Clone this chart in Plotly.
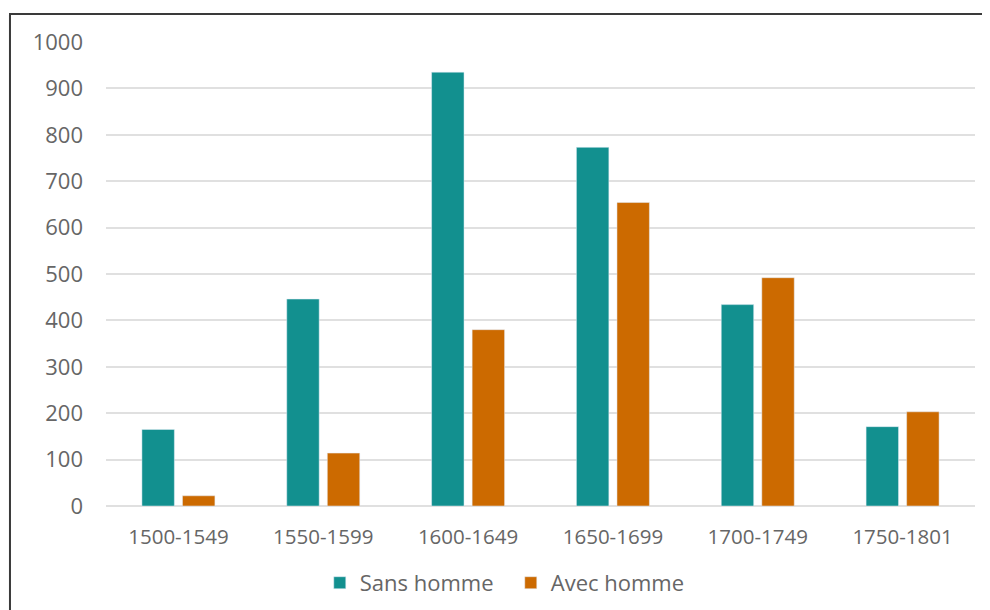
import plotly.graph_objects as go

periods = ['1500-1549', '1550-1599', '1600-1649', '1650-1699', '1700-1749', '1750-1801']
sans_homme = [165, 446, 935, 773, 434, 171]
avec_homme = [22, 114, 380, 654, 492, 203]

teal = '#12908F'
orange = '#CC6A00'
grey_text = '#666666'

fig = go.Figure()
fig.add_trace(go.Bar(x=periods, y=sans_homme, name='Sans homme', marker_color=teal))
fig.add_trace(go.Bar(x=periods, y=avec_homme, name='Avec homme', marker_color=orange))

# page has an 8px body margin, so the figure is 982x602
# plot area on page: x 106..975 px, y 42..506 px
fig.update_layout(
    width=982, height=602,
    margin=dict(l=98, r=15, t=34, b=104, autoexpand=False),
    plot_bgcolor='white', paper_bgcolor='white',
    font=dict(family='Open Sans', size=21, color=grey_text),
    barmode='group', bargap=0.44, bargroupgap=0.2,
    showlegend=True,
    legend=dict(orientation='h', x=0.246, xanchor='left',
                yref='container', y=0.045, yanchor='middle',
                font=dict(size=22, color=grey_text), itemwidth=30,
                entrywidth=146, entrywidthmode='pixels'),
    xaxis=dict(showgrid=False, showline=False, ticks='', ticklabelstandoff=16,
               tickfont=dict(size=20.5), automargin=False),
    yaxis=dict(range=[0, 1000], dtick=100, showgrid=True, gridcolor='#e0e0e0', gridwidth=1.5,
               zeroline=True, zerolinecolor='#e0e0e0', zerolinewidth=1.5,
               showline=False, ticks='', ticklabelstandoff=22,
               tickfont=dict(size=22), automargin=False),
    shapes=[dict(type='rect', xref='paper', yref='paper',
                 x0=-0.1105, x1=1.1, y0=-0.3, y1=1.0603,
                 line=dict(color='#3a3a3a', width=2), fillcolor='rgba(0,0,0,0)')],
)

fig.write_html('out.html')
